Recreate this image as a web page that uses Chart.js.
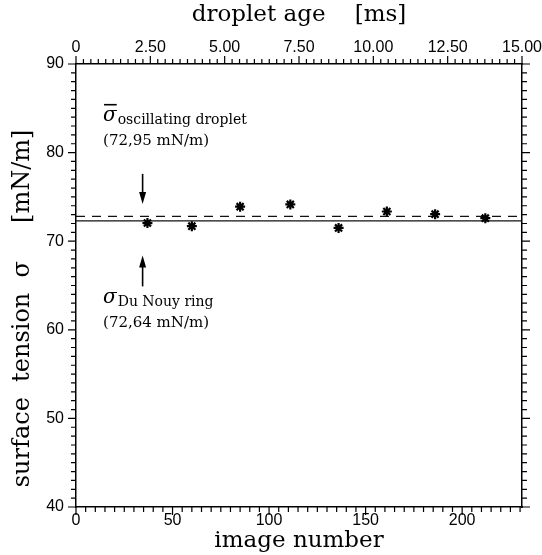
<!DOCTYPE html>
<html>
<head>
<meta charset="utf-8">
<script src="https://cdn.jsdelivr.net/npm/chart.js@4.4.1/dist/chart.umd.min.js"></script>
<style>
  html, body { margin: 0; padding: 0; background: #fff; }
  #wrap { width: 542px; height: 555px; }
</style>
</head>
<body>
<div id="wrap"><canvas id="tensionChart"></canvas></div>
<script>
// measured points (image number vs. surface tension)
var imageNumber = [37, 60, 85, 111, 136, 161, 186, 212];
var surfaceTension = [72.05, 71.7, 73.9, 74.15, 71.5, 73.35, 73.05, 72.6];

// reference levels as drawn
var oscillatingLevel = [72.8, 72.8];
var ringLevel = [72.3, 72.3];
var levelRange = [0, 231];

// tick labels
var yTicks = [40, 50, 60, 70, 80, 90];
var xTicks = [0, 50, 100, 150, 200];
var ageTicks = [0, 2.5, 5, 7.5, 10, 12.5, 15];
var ageLabels = ['0', '2.50', '5.00', '7.50', '10.00', '12.50', '15.00'];

var titleFont = { family: 'DejaVu Serif', size: 23, weight: 'normal' };
var tickFont = { family: 'Liberation Sans', size: 16 };

function levelPoints(level) {
    return levelRange.map(function(x, i) { return { x: x, y: level[i] }; });
}

function noPad(s) { s.paddingLeft = 0; s.paddingRight = 0; }

// draws outward ticks (major + minor) on all four sides
var tickPlugin = {
    id: 'outerTicks',
    afterDraw: function(chart) {
        var ctx = chart.ctx;
        var a = chart.chartArea;
        var sx = chart.scales.x, sy = chart.scales.y, st = chart.scales.x2;
        ctx.save();
        ctx.strokeStyle = '#000';
        ctx.lineWidth = 1.2;
        ctx.beginPath();
        var v;
        for (v = 40; v <= 90; v += 1) {
            var py = sy.getPixelForValue(v);
            var len = (v % 10 === 0) ? 8 : 5;
            ctx.moveTo(a.left, py); ctx.lineTo(a.left - len, py);
            ctx.moveTo(a.right, py); ctx.lineTo(a.right + len, py);
        }
        for (v = 0; v <= 230; v += 5) {
            var px = sx.getPixelForValue(v);
            var lb = (v % 50 === 0) ? 8 : 5;
            ctx.moveTo(px, a.bottom); ctx.lineTo(px, a.bottom + lb);
        }
        for (v = 0; v <= 15.001; v += 0.25) {
            var pt = st.getPixelForValue(v);
            var lt = (Math.abs(v / 2.5 - Math.round(v / 2.5)) < 0.001) ? 8 : 5;
            ctx.moveTo(pt, a.top); ctx.lineTo(pt, a.top - lt);
        }
        ctx.stroke();
        ctx.restore();
    }
};

function drawArrow(ctx, x, y1, y2) {
    var dir = y2 > y1 ? 1 : -1;
    ctx.beginPath();
    ctx.moveTo(x, y1); ctx.lineTo(x, y2 - dir * 6);
    ctx.stroke();
    ctx.beginPath();
    ctx.moveTo(x, y2);
    ctx.lineTo(x - 3.5, y2 - dir * 12);
    ctx.lineTo(x + 3.5, y2 - dir * 12);
    ctx.closePath();
    ctx.fill();
}

// labels and arrows for the two reference levels
var notePlugin = {
    id: 'notes',
    afterDraw: function(chart) {
        var ctx = chart.ctx;
        var sx = chart.scales.x, sy = chart.scales.y;
        var tx = sx.getPixelForValue(14);
        var ax = sx.getPixelForValue(34.5);
        ctx.save();
        ctx.fillStyle = '#000';
        ctx.strokeStyle = '#000';
        ctx.lineWidth = 1.6;
        ctx.textBaseline = 'alphabetic';
        ctx.textAlign = 'left';

        // oscillating droplet
        var y1 = sy.getPixelForValue(83.6);
        ctx.font = 'italic 20px "DejaVu Serif"';
        ctx.fillText('σ', tx, y1);
        var sw = ctx.measureText('σ').width;
        ctx.beginPath();
        ctx.moveTo(tx + 1, y1 - 16); ctx.lineTo(tx + sw, y1 - 16);
        ctx.stroke();
        ctx.font = '14px "DejaVu Serif"';
        ctx.fillText('oscillating droplet', tx + sw + 1, y1 + 3);
        ctx.font = '15px "DejaVu Serif"';
        ctx.fillText('(72,95 mN/m)', tx, sy.getPixelForValue(80.9));

        drawArrow(ctx, ax, sy.getPixelForValue(77.6), sy.getPixelForValue(74.2));
        drawArrow(ctx, ax, sy.getPixelForValue(64.9), sy.getPixelForValue(68.4));

        // Du Nouy ring
        var y2 = sy.getPixelForValue(63.0);
        ctx.font = 'italic 20px "DejaVu Serif"';
        ctx.fillText('σ', tx, y2);
        ctx.font = '14px "DejaVu Serif"';
        ctx.fillText('Du Nouy ring', tx + sw + 1, y2 + 3);
        ctx.font = '15px "DejaVu Serif"';
        ctx.fillText('(72,64 mN/m)', tx, sy.getPixelForValue(60.3));
        ctx.restore();
    }
};

var ctx = document.getElementById('tensionChart').getContext('2d');
var tensionChart = new Chart(ctx, {
    type: 'scatter',
    data: {
        datasets: [{
            label: 'droplet',
            data: imageNumber.map(function(x, i) { return { x: x, y: surfaceTension[i] }; }),
            pointStyle: 'star',
            pointRadius: 5,
            borderColor: '#000',
            backgroundColor: '#000',
            borderWidth: 2.2
        }, {
            label: 'oscillating droplet',
            type: 'line',
            data: levelPoints(oscillatingLevel),
            borderColor: '#111',
            borderWidth: 1.3,
            borderDash: [9, 7],
            pointRadius: 0
        }, {
            label: 'Du Nouy ring',
            type: 'line',
            data: levelPoints(ringLevel),
            borderColor: '#111',
            borderWidth: 1.3,
            pointRadius: 0
        }]
    },
    options: {
        responsive: true,
        maintainAspectRatio: false,
        animation: false,
        layout: { padding: 0 },
        plugins: {
            legend: { display: false },
            tooltip: { enabled: false }
        },
        scales: {
            x: {
                type: 'linear',
                position: 'bottom',
                min: 0,
                max: 231,
                afterFit: function(s) { s.height = 48; noPad(s); },
                afterBuildTicks: function(s) { s.ticks = xTicks.map(function(v) { return { value: v }; }); },
                grid: { display: true, drawOnChartArea: false, drawTicks: false },
                border: { display: true, color: '#000', width: 1.5 },
                ticks: { color: '#000', font: tickFont, padding: 4, maxRotation: 0 },
                title: { display: true, text: 'image number', color: '#000', font: titleFont, padding: { top: 0, bottom: 0 } }
            },
            x2: {
                type: 'linear',
                position: 'top',
                min: 0,
                max: 15,
                afterFit: function(s) { s.height = 64; noPad(s); },
                afterBuildTicks: function(s) { s.ticks = ageTicks.map(function(v) { return { value: v }; }); },
                grid: { display: true, drawOnChartArea: false, drawTicks: false },
                border: { display: true, color: '#000', width: 1.5 },
                ticks: {
                    color: '#000', font: tickFont, padding: 7, maxRotation: 0,
                    callback: function(v) { return ageLabels[ageTicks.indexOf(v)]; }
                },
                title: { display: true, text: 'droplet age    [ms]', color: '#000', font: titleFont, padding: { top: 1, bottom: 0 } }
            },
            y: {
                type: 'linear',
                position: 'left',
                min: 40,
                max: 90,
                afterFit: function(s) { s.width = 76; },
                afterBuildTicks: function(s) { s.ticks = yTicks.map(function(v) { return { value: v }; }); },
                grid: { display: true, drawOnChartArea: false, drawTicks: false },
                border: { display: true, color: '#000', width: 1.5 },
                ticks: { color: '#000', font: tickFont, padding: 12 },
                title: {
                    display: true,
                    text: 'surface  tension  σ     [mN/m]      ',
                    color: '#000',
                    font: { family: 'DejaVu Serif', size: 24, weight: 'normal' },
                    padding: { top: 8, bottom: 0 }
                }
            },
            y2: {
                type: 'linear',
                position: 'right',
                min: 40,
                max: 90,
                afterFit: function(s) { s.width = 20; },
                grid: { display: true, drawOnChartArea: false, drawTicks: false },
                border: { display: true, color: '#000', width: 1.5 },
                ticks: { display: false }
            }
        }
    },
    plugins: [tickPlugin, notePlugin]
});
</script>
</body>
</html>
